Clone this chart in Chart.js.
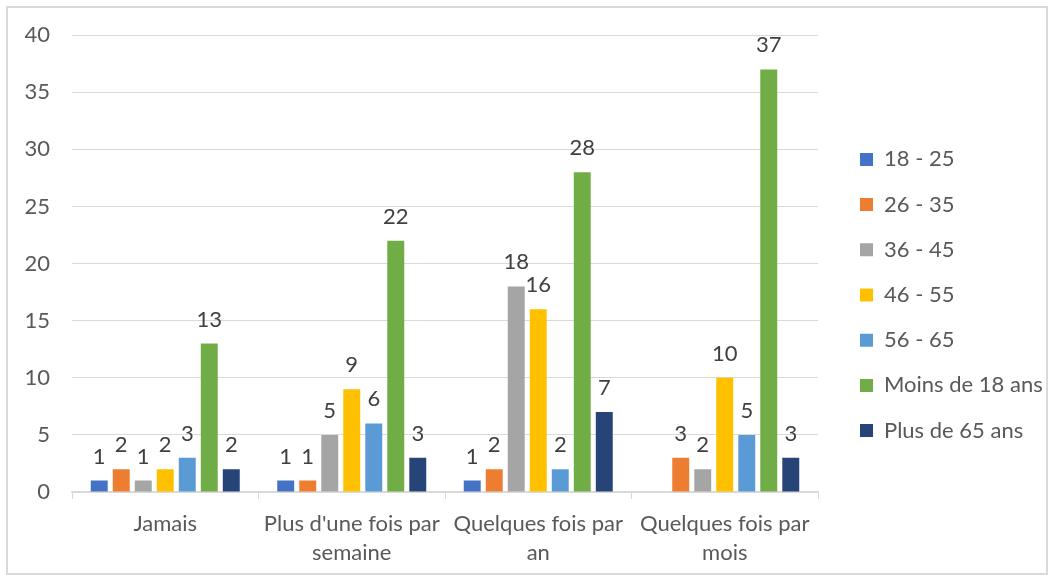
<!DOCTYPE html>
<html>
<head>
<meta charset="utf-8">
<script src="https://cdn.jsdelivr.net/npm/chart.js@4.4.1/dist/chart.umd.min.js"></script>
<style>
    body { margin: 0; background: #fff; }
    #wrap { position: relative; width: 1052px; height: 577px; }
    #frame { position: absolute; left: 6px; top: 6px; width: 1042px; height: 569px; border: 2px solid #d9d9d9; box-sizing: border-box; pointer-events: none; }
</style>
</head>
<body>
<div id="wrap">
    <canvas id="freq-bar" width="1052" height="577"></canvas>
    <div id="frame"></div>
</div>
<script>
// Frequence par tranche d'age
let categories = ['Jamais', ["Plus d'une fois par", 'semaine'], ['Quelques fois par', 'an'], ['Quelques fois par', 'mois']];
let seriesNames = ['18 - 25', '26 - 35', '36 - 45', '46 - 55', '56 - 65', 'Moins de 18 ans', 'Plus de 65 ans'];
let colorHex = ['#4472C4', '#ED7D31', '#A5A5A5', '#FFC000', '#5B9BD5', '#70AD47', '#264478'];

let age18_25 = [1, 1, 1, null];
let age26_35 = [2, 1, 2, 3];
let age36_45 = [1, 5, 18, 2];
let age46_55 = [2, 9, 16, 10];
let age56_65 = [3, 6, 2, 5];
let moins18 = [13, 22, 28, 37];
let plus65 = [2, 3, 7, 3];

let yTicks = [0, 5, 10, 15, 20, 25, 30, 35, 40];

let seriesValues = [age18_25, age26_35, age36_45, age46_55, age56_65, moins18, plus65];
let font = { family: 'Lato', size: 22 };

// value above each bar
const barValues = {
    id: 'barValues',
    afterDatasetsDraw(chart) {
        const c = chart.ctx;
        c.save();
        c.font = '22px Lato';
        c.fillStyle = '#404040';
        c.textAlign = 'center';
        c.textBaseline = 'alphabetic';
        chart.data.datasets.forEach((ds, i) => {
            chart.getDatasetMeta(i).data.forEach((bar, j) => {
                if (ds.data[j] == null) return;
                c.fillText(ds.data[j], bar.x, bar.y - 17);
            });
        });
        c.restore();
    }
};

// fixed legend width so the boxes line up
const legendWidth = {
    id: 'legendWidth',
    beforeInit(chart) {
        const fit = chart.legend.fit;
        chart.legend.fit = function () {
            fit.call(this);
            this.width = 215.2;
        };
    }
};

let ctx = document.getElementById('freq-bar').getContext('2d');

let myChart = new Chart(ctx, {
    type: 'bar',
    data: {
        labels: categories,
        datasets: seriesNames.map((name, i) => ({
            label: name,
            data: seriesValues[i],
            backgroundColor: colorHex[i],
            categoryPercentage: 0.826,
            barPercentage: 0.77
        }))
    },
    options: {
        responsive: false,
        animation: false,
        devicePixelRatio: 1,
        layout: { padding: { top: 13, right: 0, bottom: 0, left: 0 } },
        plugins: {
            tooltip: { enabled: false },
            legend: {
                position: 'right',
                labels: {
                    color: '#595959',
                    font: font,
                    boxWidth: 13,
                    boxHeight: 13,
                    padding: 23.2
                }
            }
        },
        scales: {
            x: {
                grid: { drawOnChartArea: false, drawTicks: true, tickLength: 7, color: '#d9d9d9' },
                border: { color: '#d9d9d9', width: 1.5 },
                ticks: { color: '#595959', font: { family: 'Lato', size: 22, lineHeight: 1.32 }, padding: 10.5, maxRotation: 0, autoSkip: false },
                afterFit(s) { s.height = 85; }
            },
            x2: {
                type: 'category',
                position: 'top',
                grid: { display: false },
                border: { display: false },
                ticks: { display: false },
                afterFit(s) { s.height = 22; }
            },
            y: {
                min: 0,
                max: 40,
                afterBuildTicks(s) { s.ticks = yTicks.map(v => ({ value: v })); },
                grid: { color: '#d9d9d9', drawTicks: false },
                border: { display: false },
                ticks: { color: '#595959', font: font, padding: 22 },
                afterFit(s) { s.width = 72; }
            },
            y2: {
                position: 'right',
                grid: { display: false },
                border: { display: false },
                ticks: { display: false },
                afterFit(s) { s.width = 18.8; }
            }
        }
    },
    plugins: [barValues, legendWidth]
});
</script>
</body>
</html>
